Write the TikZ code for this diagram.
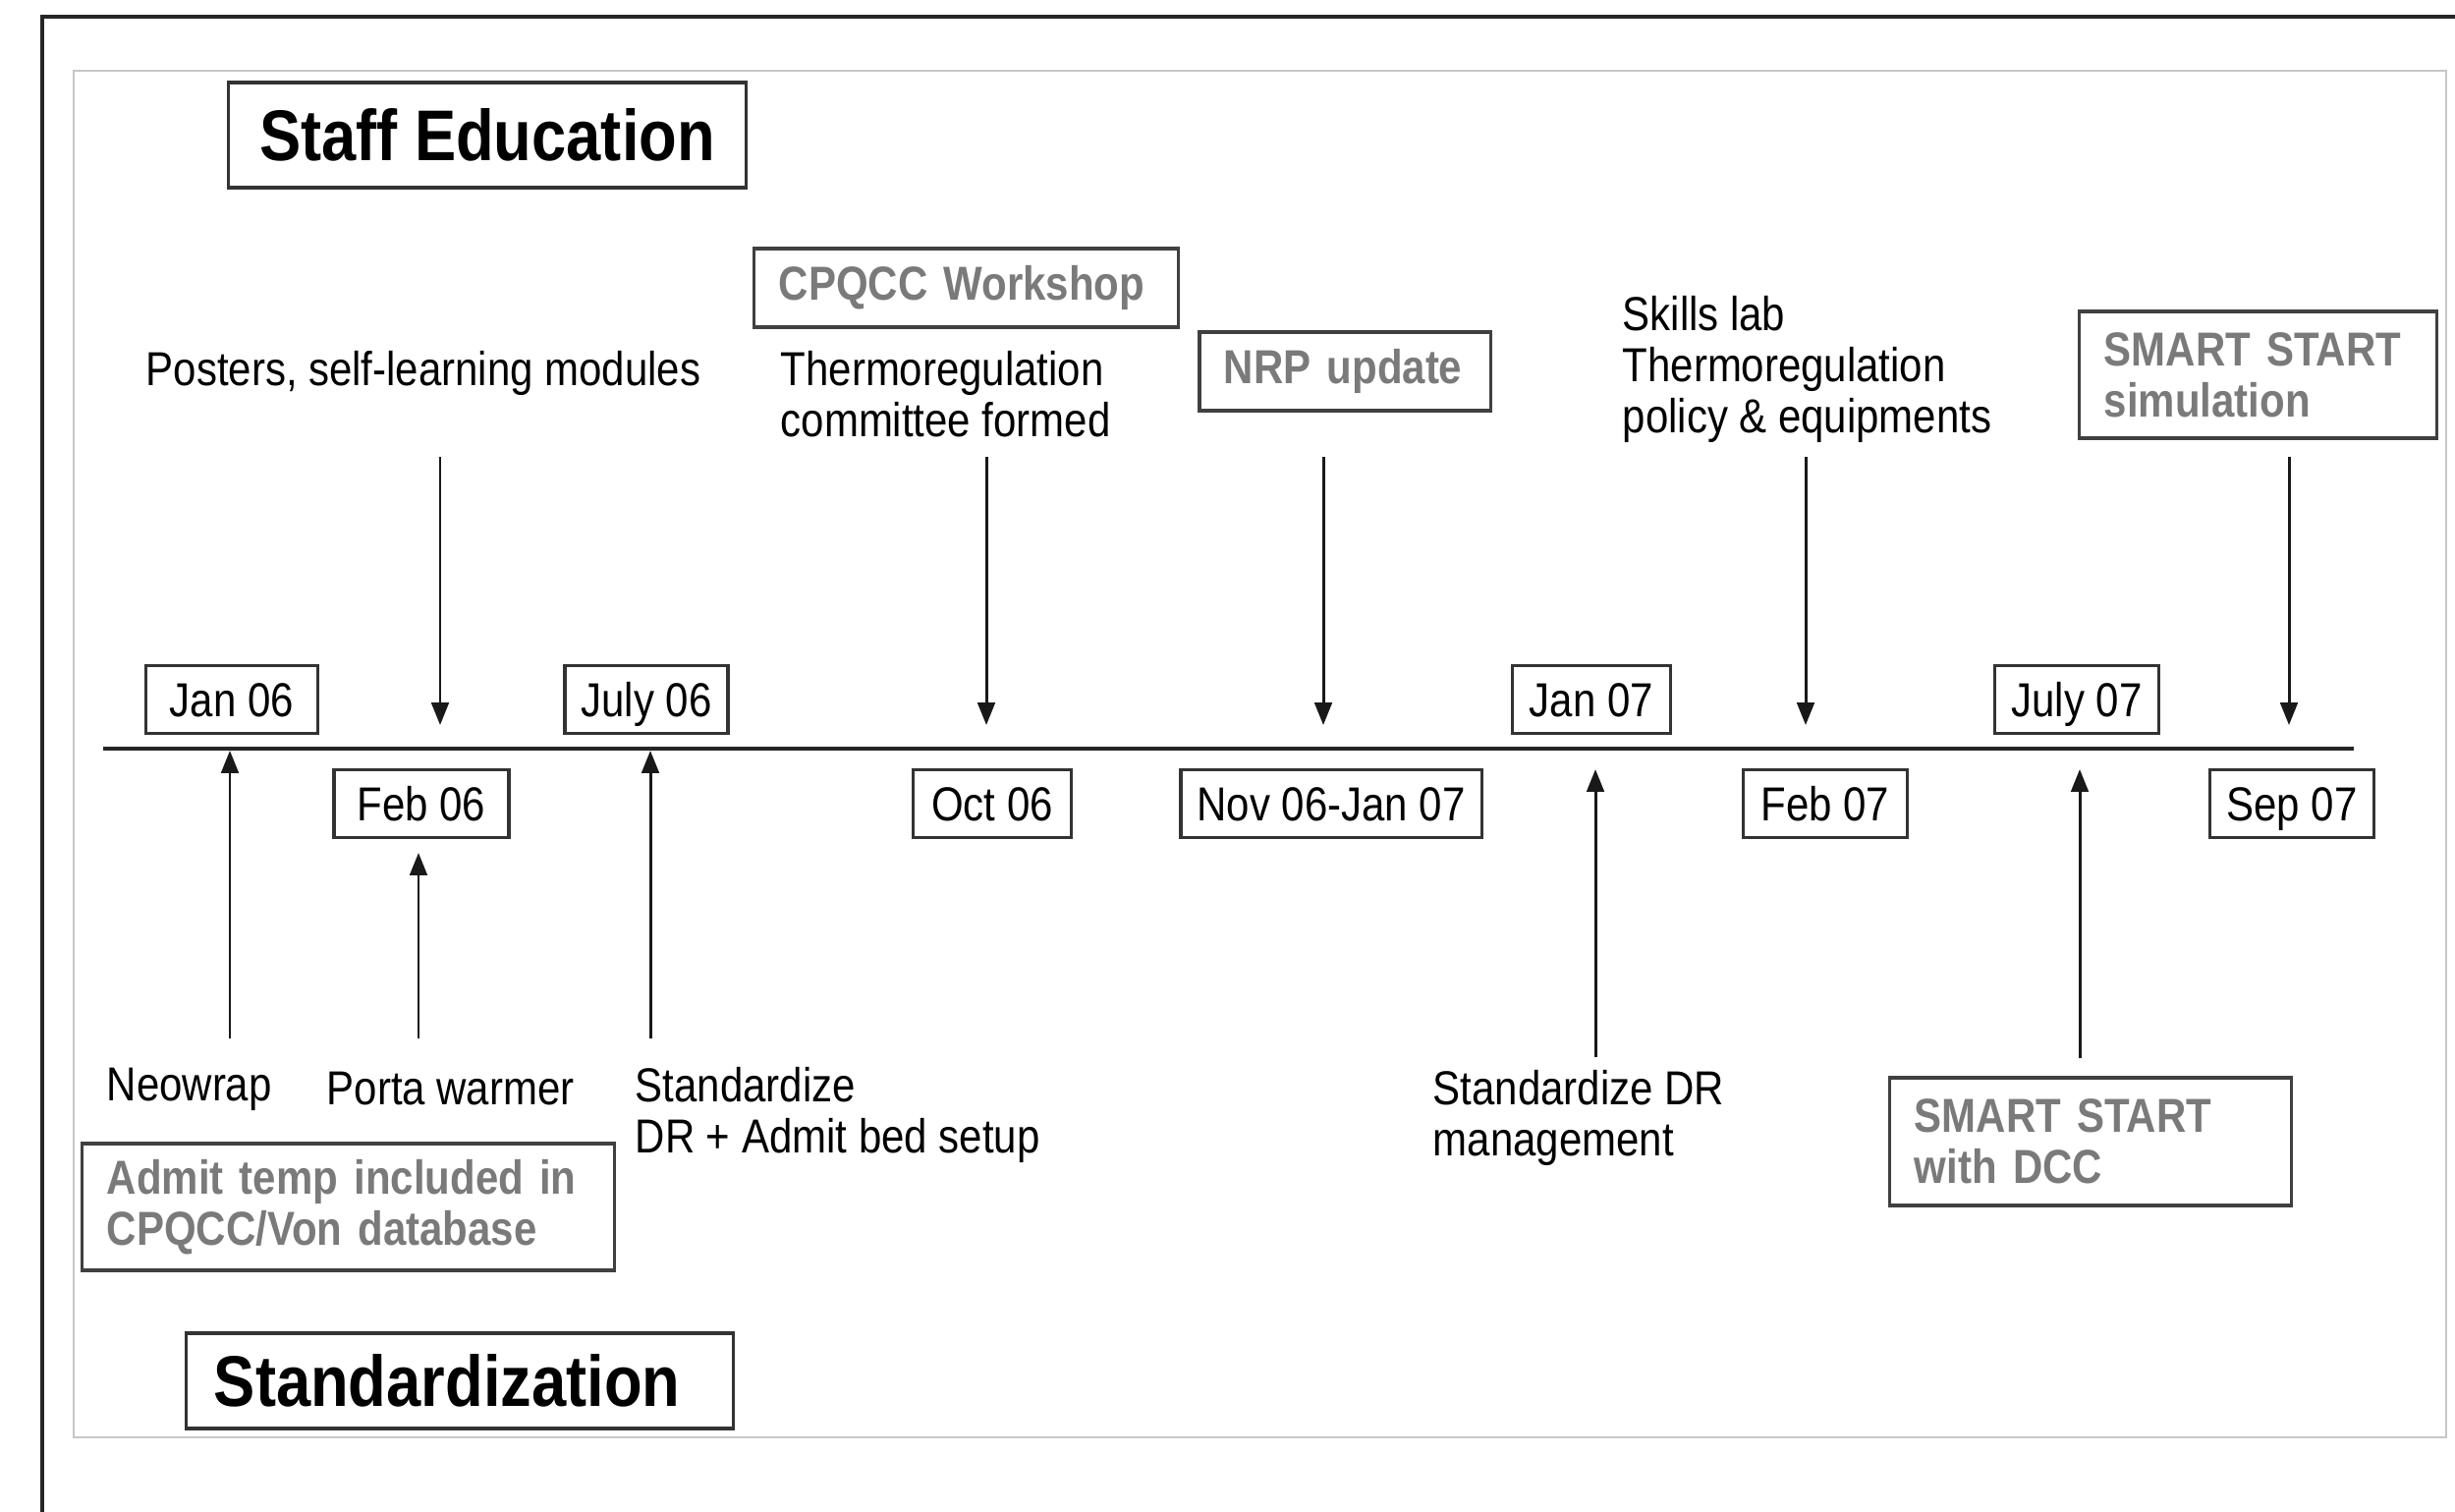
\documentclass[tikz,border=0pt]{standalone}
\usepackage{fontspec}
\setmainfont{Liberation Sans}[FakeStretch=0.865]
\usetikzlibrary{arrows.meta}
\begin{document}
\begin{tikzpicture}[x=0.01cm,y=-0.01cm,
  lbl/.style={inner sep=0pt, anchor=west, align=left, font=\fontsize{13.8}{14.8}\selectfont},
  datebox/.style={draw=black!80, line width=0.9pt, minimum height=0.69cm, inner sep=0pt, text height=9.9pt, text depth=0pt, font=\fontsize{13.8}{14.8}\selectfont},
  graybox/.style={draw=black!75, line width=0.9pt, inner xsep=0.25cm, inner ysep=0pt, align=left, text=black!52, font=\fontsize{13.8}{14.8}\selectfont\bfseries},
  titlebox/.style={draw=black!80, line width=0.9pt, inner sep=0pt, font=\fontsize{20.8}{24}\selectfont\bfseries},
  arr/.style={line width=0.85pt, black!90, -{Triangle[length=6.5pt,width=5pt]}}]
\fill[white] (0,0) rectangle (2499,1538);
\useasboundingbox (0,0) rectangle (2499,1538);
% frames
\draw[line width=1.2pt, black!85] (43,1545) -- (43,17) -- (2510,17);
\draw[black!22, line width=0.5pt] (75,72) rectangle (2490,1463);
% titles
\node[titlebox, minimum width=5.26cm, minimum height=1.07cm] (staff) at (496,137.5) {Staff Education};
\node[titlebox, minimum width=5.56cm, minimum height=0.97cm, text width=5.0cm, align=left, inner xsep=0.28cm] (std) at (468,1405.5) {Standardization};
% timeline
\coordinate (tlL) at (105,762);
\coordinate (tlR) at (2396,762);
\draw[line width=0.95pt, black!85] (tlL) -- (tlR);
% date boxes
\node[datebox, minimum width=1.75cm] (jan06) at (236,712) {Jan 06};
\node[datebox, minimum width=1.66cm] (jul06) at (658,712) {July 06};
\node[datebox, minimum width=1.61cm] (jan07) at (1620,712) {Jan 07};
\node[datebox, minimum width=1.67cm] (jul07) at (2114,712) {July 07};
\node[datebox, minimum width=1.78cm] (feb06) at (429,818) {Feb 06};
\node[datebox, minimum width=1.61cm] (oct06) at (1010,818) {Oct 06};
\node[datebox, minimum width=3.06cm] (nov06) at (1355,818) {Nov 06-Jan 07};
\node[datebox, minimum width=1.67cm] (feb07) at (1858,818) {Feb 07};
\node[datebox, minimum width=1.67cm] (sep07) at (2333,818) {Sep 07};
% gray boxes
\node[graybox, text width=3.81cm, minimum height=0.80cm] (cpqcc) at (983.5,293) {CPQCC Workshop};
\node[graybox, text width=2.46cm, minimum height=0.80cm] (nrp) at (1369,378) {NRP update};
\node[graybox, text width=3.13cm, minimum height=1.29cm] (simul) at (2298.5,381.5) {SMART START\\simulation};
\node[graybox, text width=4.91cm, minimum height=1.29cm] (admit) at (354.5,1228.5) {Admit temp included in\\CPQCC/Von database};
\node[graybox, text width=3.58cm, minimum height=1.30cm] (dcc) at (2128,1162) {SMART START\\with DCC};
% labels
\node[lbl] (posters) at (148,380) {Posters, self-learning modules};
\node[lbl] (thermo) at (794,401.5) {Thermoregulation\\committee formed};
\node[lbl] (skills) at (1651,376) {Skills lab\\Thermoregulation\\policy \& equipments};
\node[lbl] (neowrap) at (108,1109) {Neowrap};
\node[lbl] (porta) at (332,1108) {Porta warmer};
\node[lbl] (stdz) at (646,1134.5) {Standardize\\DR + Admit bed setup};
\node[lbl] (stddr) at (1458,1137.5) {Standardize DR\\management};
% down arrows
\coordinate (d1s) at (448,465);  \coordinate (d1e) at (448,738);
\coordinate (d2s) at (1004,465); \coordinate (d2e) at (1004,738);
\coordinate (d3s) at (1347,465); \coordinate (d3e) at (1347,738);
\coordinate (d4s) at (1838,465); \coordinate (d4e) at (1838,738);
\coordinate (d5s) at (2330,465); \coordinate (d5e) at (2330,738);
\draw[arr] (d1s) -- (d1e);
\draw[arr] (d2s) -- (d2e);
\draw[arr] (d3s) -- (d3e);
\draw[arr] (d4s) -- (d4e);
\draw[arr] (d5s) -- (d5e);
% up arrows
\coordinate (u1s) at (234,1057);  \coordinate (u1e) at (234,764);
\coordinate (u2s) at (426,1057);  \coordinate (u2e) at (426,868);
\coordinate (u3s) at (662,1057);  \coordinate (u3e) at (662,764);
\coordinate (u4s) at (1624,1076); \coordinate (u4e) at (1624,783);
\coordinate (u5s) at (2117,1077); \coordinate (u5e) at (2117,783);
\draw[arr] (u1s) -- (u1e);
\draw[arr] (u2s) -- (u2e);
\draw[arr] (u3s) -- (u3e);
\draw[arr] (u4s) -- (u4e);
\draw[arr] (u5s) -- (u5e);
\end{tikzpicture}
\end{document}
